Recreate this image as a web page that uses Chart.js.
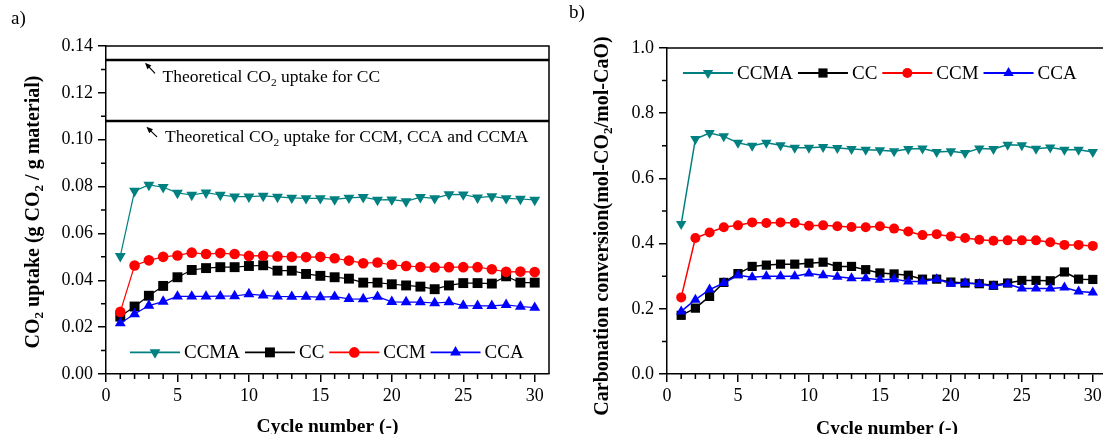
<!DOCTYPE html>
<html>
<head>
<meta charset="utf-8">
<script src="https://cdn.jsdelivr.net/npm/chart.js@4.4.1/dist/chart.umd.min.js"></script>
<style>
  html, body { margin: 0; padding: 0; background: #fff; overflow: hidden; }
  .panel { position: absolute; top: 0; }
</style>
</head>
<body>
<canvas id="uptake" class="panel" width="560" height="434" style="left:0"></canvas>
<canvas id="conversion" class="panel" width="560" height="434" style="left:560px"></canvas>
<script>
const cycles = [1, 2, 3, 4, 5, 6, 7, 8, 9, 10, 11, 12, 13, 14, 15,
  16, 17, 18, 19, 20, 21, 22, 23, 24, 25, 26, 27, 28, 29, 30];

// CO2 uptake, g CO2 / g material
const uptakeCCMA = [0.0503, 0.0781, 0.0807, 0.0797, 0.0773, 0.0764, 0.0774, 0.0764, 0.0757, 0.0757,
  0.0760, 0.0756, 0.0752, 0.0750, 0.0750, 0.0745, 0.0752, 0.0755, 0.0743, 0.0744,
  0.0737, 0.0755, 0.0750, 0.0767, 0.0766, 0.0753, 0.0758, 0.0750, 0.0747, 0.0743];
const uptakeCC = [0.0245, 0.0288, 0.0334, 0.0376, 0.0413, 0.0444, 0.0452, 0.0456, 0.0456, 0.0461,
  0.0464, 0.0441, 0.0441, 0.0427, 0.0419, 0.0413, 0.0407, 0.0390, 0.0390, 0.0383,
  0.0378, 0.0373, 0.0362, 0.0378, 0.0388, 0.0388, 0.0386, 0.0417, 0.0390, 0.0390];
const uptakeCCM = [0.0265, 0.0463, 0.0485, 0.0500, 0.0506, 0.0518, 0.0512, 0.0516, 0.0512, 0.0504,
  0.0505, 0.0502, 0.0500, 0.0499, 0.0500, 0.0494, 0.0484, 0.0473, 0.0476, 0.0466,
  0.0461, 0.0457, 0.0455, 0.0456, 0.0456, 0.0456, 0.0447, 0.0436, 0.0437, 0.0435];
const uptakeCCA = [0.0217, 0.0256, 0.0292, 0.0309, 0.0331, 0.0331, 0.0331, 0.0332, 0.0333, 0.0341,
  0.0336, 0.0331, 0.0330, 0.0330, 0.0328, 0.0330, 0.0321, 0.0320, 0.0330, 0.0308,
  0.0307, 0.0307, 0.0303, 0.0307, 0.0292, 0.0291, 0.0291, 0.0295, 0.0288, 0.0283];
const theoryCC = 0.134;
const theoryDoped = 0.108;

// carbonation conversion, mol CO2 / mol CaO
const convCCMA = [0.460, 0.721, 0.739, 0.729, 0.709, 0.700, 0.709, 0.702, 0.694, 0.694,
  0.696, 0.693, 0.690, 0.688, 0.686, 0.683, 0.690, 0.692, 0.681, 0.683,
  0.678, 0.692, 0.690, 0.703, 0.702, 0.691, 0.695, 0.688, 0.688, 0.681];
const convCC = [0.180, 0.202, 0.238, 0.281, 0.308, 0.330, 0.334, 0.337, 0.337, 0.340,
  0.343, 0.330, 0.330, 0.320, 0.310, 0.307, 0.303, 0.291, 0.291, 0.282,
  0.279, 0.277, 0.272, 0.279, 0.287, 0.287, 0.286, 0.313, 0.291, 0.290];
const convCCM = [0.235, 0.417, 0.434, 0.450, 0.456, 0.465, 0.463, 0.465, 0.463, 0.455,
  0.456, 0.453, 0.451, 0.450, 0.453, 0.446, 0.437, 0.426, 0.429, 0.422,
  0.417, 0.412, 0.409, 0.410, 0.410, 0.410, 0.404, 0.396, 0.396, 0.393];
const convCCA = [0.192, 0.228, 0.259, 0.279, 0.303, 0.297, 0.300, 0.300, 0.300, 0.308,
  0.303, 0.298, 0.294, 0.294, 0.289, 0.291, 0.284, 0.284, 0.291, 0.277,
  0.279, 0.276, 0.269, 0.276, 0.262, 0.262, 0.262, 0.265, 0.253, 0.250];

const FONT = 'Liberation Serif';
const TEAL = '#008080', BLACK = '#000000', RED = '#ff0000', BLUE = '#0000ff';

function series(label, values, color, marker, r, width, order) {
  return {
    label, order, marker,
    data: cycles.map((c, i) => ({ x: c, y: values[i] })),
    borderColor: color,
    backgroundColor: color,
    borderWidth: width,
    pointStyle: marker === 'triDown' ? 'triangle' : marker,
    pointRotation: marker === 'triDown' ? 180 : 0,
    pointRadius: r,
    pointHoverRadius: r,
    pointBorderWidth: 0,
    pointBackgroundColor: color
  };
}

function level(v) {
  return {
    data: [{ x: 0, y: v }, { x: 31, y: v }],
    borderColor: BLACK, borderWidth: 2.5, pointRadius: 0, order: 9
  };
}

function axes(yMax, yStep, digits, leftWidth) {
  const font = { family: FONT, size: 18 };
  const grid = { drawOnChartArea: false, tickLength: 8, color: BLACK, lineWidth: 1.5 };
  const border = { color: BLACK, width: 1.5 };
  return {
    x: {
      type: 'linear', min: 0, max: 31, grid, border,
      ticks: { stepSize: 5, includeBounds: false, font, color: BLACK, padding: 3, maxRotation: 0 },
      afterFit: s => { s.height = 60; }
    },
    y: {
      min: 0, max: yMax, grid, border,
      ticks: { stepSize: yStep, font, color: BLACK, padding: 5, callback: v => v.toFixed(digits) },
      afterFit: s => { s.width = leftWidth; }
    }
  };
}

// text with subscripts: odd entries of parts are subscripts
function richWidth(ctx, parts, size, weight) {
  let w = 0;
  parts.forEach((p, i) => {
    ctx.font = `${weight} ${i % 2 ? size * 0.65 : size}px "${FONT}"`;
    w += ctx.measureText(p).width;
  });
  return w;
}
function drawRich(ctx, parts, x, y, size, weight) {
  ctx.textBaseline = 'alphabetic';
  ctx.textAlign = 'left';
  parts.forEach((p, i) => {
    const sub = i % 2 === 1;
    ctx.font = `${weight} ${sub ? size * 0.65 : size}px "${FONT}"`;
    ctx.fillText(p, x, sub ? y + size * 0.22 : y);
    x += ctx.measureText(p).width;
  });
}

function marker(ctx, style, x, y, r, color) {
  ctx.fillStyle = color;
  ctx.beginPath();
  if (style === 'circle') {
    ctx.arc(x, y, r, 0, Math.PI * 2);
  } else if (style === 'rect') {
    const s = r * Math.SQRT1_2;
    ctx.rect(x - s, y - s, 2 * s, 2 * s);
  } else {
    const d = style === 'triDown' ? -1 : 1;
    ctx.moveTo(x, y - d * r);
    ctx.lineTo(x + 0.866 * r, y + d * 0.5 * r);
    ctx.lineTo(x - 0.866 * r, y + d * 0.5 * r);
    ctx.closePath();
  }
  ctx.fill();
}

function arrow(ctx, x0, y0, x1, y1) {
  const ang = Math.atan2(y1 - y0, x1 - x0);
  ctx.lineWidth = 1.2;
  ctx.beginPath();
  ctx.moveTo(x0, y0);
  ctx.lineTo(x1 - Math.cos(ang) * 4, y1 - Math.sin(ang) * 4);
  ctx.stroke();
  ctx.beginPath();
  ctx.moveTo(x1, y1);
  ctx.lineTo(x1 - Math.cos(ang - 0.4) * 7, y1 - Math.sin(ang - 0.4) * 7);
  ctx.lineTo(x1 - Math.cos(ang + 0.4) * 7, y1 - Math.sin(ang + 0.4) * 7);
  ctx.closePath();
  ctx.fill();
}

const decor = {
  id: 'decor',
  afterDraw(chart, _args, o) {
    const { ctx, chartArea: a, scales: { x, y } } = chart;
    ctx.save();
    ctx.strokeStyle = BLACK;
    ctx.fillStyle = BLACK;
    ctx.lineWidth = 1.5;
    ctx.beginPath();
    // top and right frame
    ctx.moveTo(a.left, a.top);
    ctx.lineTo(a.right, a.top);
    ctx.lineTo(a.right, a.bottom);
    // minor ticks
    for (let v = 1; v < 31; v++) {
      if (v % 5 === 0) continue;
      const px = x.getPixelForValue(v);
      ctx.moveTo(px, a.bottom);
      ctx.lineTo(px, a.bottom + 5);
    }
    const n = Math.round(y.max / o.yMinor);
    for (let i = 1; i < n; i += 2) {
      const py = y.getPixelForValue(i * o.yMinor);
      ctx.moveTo(a.left, py);
      ctx.lineTo(a.left - 5, py);
    }
    ctx.stroke();

    // legend: line + marker + name, in a row
    const lg = o.legend;
    let lx = a.left + lg.dx;
    const ly = lg.fromTop ? a.top + lg.dy : a.bottom - lg.dy;
    ctx.font = `19px "${FONT}"`;
    ctx.textBaseline = 'middle';
    ctx.textAlign = 'left';
    chart.data.datasets.filter(d => d.label).forEach(d => {
      ctx.strokeStyle = d.borderColor;
      ctx.lineWidth = 1.8;
      ctx.beginPath();
      ctx.moveTo(lx, ly);
      ctx.lineTo(lx + 50, ly);
      ctx.stroke();
      marker(ctx, d.marker, lx + 25, ly, d.pointRadius, d.borderColor);
      ctx.fillStyle = BLACK;
      ctx.font = `19px "${FONT}"`;
      ctx.fillText(d.label, lx + 54, ly + 1);
      lx += 54 + ctx.measureText(d.label).width + 5;
    });

    // notes with arrows
    ctx.fillStyle = BLACK;
    ctx.strokeStyle = BLACK;
    (o.notes || []).forEach(nt => {
      arrow(ctx, x.getPixelForValue(nt.from[0]), y.getPixelForValue(nt.from[1]),
        x.getPixelForValue(nt.to[0]), y.getPixelForValue(nt.to[1]));
      drawRich(ctx, nt.parts, x.getPixelForValue(nt.x), y.getPixelForValue(nt.y), 17.5, 'normal');
    });

    // axis titles
    const yt = o.yTitle;
    const yw = richWidth(ctx, yt.parts, 20, 'bold');
    ctx.save();
    ctx.translate(yt.x, yt.y);
    ctx.rotate(-Math.PI / 2);
    drawRich(ctx, yt.parts, -yw / 2, 0, 20, 'bold');
    ctx.restore();
    const xw = richWidth(ctx, o.xTitle.parts, 19.5, 'bold');
    drawRich(ctx, o.xTitle.parts, (a.left + a.right) / 2 - xw / 2, o.xTitle.y, 19.5, 'bold');

    // panel tag
    ctx.font = `19px "${FONT}"`;
    ctx.textBaseline = 'alphabetic';
    ctx.fillText(o.tag.text, o.tag.x, o.tag.y);
    ctx.restore();
  }
};

new Chart(document.getElementById('uptake'), {
  type: 'line',
  data: {
    datasets: [
      series('CCMA', uptakeCCMA, TEAL, 'triDown', 6.3, 1.2, 3),
      series('CC', uptakeCC, BLACK, 'rect', 7, 1.2, 4),
      series('CCM', uptakeCCM, RED, 'circle', 5.3, 1.2, 2),
      series('CCA', uptakeCCA, BLUE, 'triangle', 6.3, 1.2, 1),
      level(theoryCC),
      level(theoryDoped)
    ]
  },
  options: {
    responsive: false,
    animation: false,
    layout: { padding: { left: 0, top: 46, right: 11, bottom: 0 } },
    scales: axes(0.14, 0.02, 2, 106),
    plugins: {
      legend: { display: false },
      tooltip: { enabled: false },
      decor: {
        yMinor: 0.01,
        legend: { dx: 24, dy: 21.6, fromTop: false },
        notes: [
          { parts: ['Theoretical CO', '2', ' uptake for CC'], x: 3.96, y: 0.1247,
            from: [3.43, 0.1283], to: [2.73, 0.1329] },
          { parts: ['Theoretical CO', '2', ' uptake for CCM, CCA and CCMA'], x: 4.13, y: 0.0990,
            from: [3.57, 0.1012], to: [2.83, 0.1055] }
        ],
        yTitle: { parts: ['CO', '2', ' uptake (g CO', '2', ' / g material)'], x: 38.5, y: 212 },
        xTitle: { parts: ['Cycle number (-)'], y: 432 },
        tag: { text: 'a)', x: 11, y: 24 }
      }
    }
  },
  plugins: [decor]
});

new Chart(document.getElementById('conversion'), {
  type: 'line',
  data: {
    datasets: [
      series('CCMA', convCCMA, TEAL, 'triDown', 6, 1.5, 3),
      series('CC', convCC, BLACK, 'rect', 6.5, 1.5, 4),
      series('CCM', convCCM, RED, 'circle', 5, 1.5, 2),
      series('CCA', convCCA, BLUE, 'triangle', 6, 1.5, 1)
    ]
  },
  options: {
    responsive: false,
    animation: false,
    layout: { padding: { left: 0, top: 48, right: 13, bottom: 0 } },
    scales: axes(1.0, 0.2, 1, 107),
    plugins: {
      legend: { display: false },
      tooltip: { enabled: false },
      decor: {
        yMinor: 0.1,
        legend: { dx: 16, dy: 25, fromTop: true },
        yTitle: { parts: ['Carbonation conversion(mol-CO', '2', '/mol-CaO)'], x: 48, y: 226 },
        xTitle: { parts: ['Cycle number (-)'], y: 433.5 },
        tag: { text: 'b)', x: 9, y: 17.5 }
      }
    }
  },
  plugins: [decor]
});
</script>
</body>
</html>
